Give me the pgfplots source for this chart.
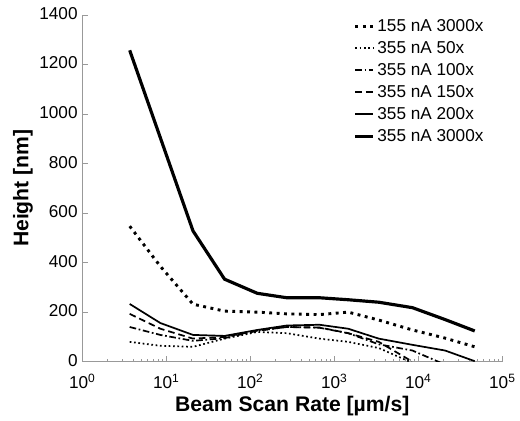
\documentclass[border=0pt]{standalone}
\usepackage{fontspec}
\setmainfont{Liberation Sans}
\usepackage{pgfplots}
\pgfplotsset{compat=1.18}

\begin{document}
\begin{tikzpicture}
\begin{axis}[
    scale only axis,
    width=318pt, height=262.5pt,
    xmode=log,
    xmin=1, xmax=1e5,
    ymin=0, ymax=1400,
    xtick={1,10,100,1000,10000,100000},
    xticklabels={10\textsuperscript{0},10\textsuperscript{1},10\textsuperscript{2},10\textsuperscript{3},10\textsuperscript{4},10\textsuperscript{5}},
    ytick={0,200,...,1400},
    axis x line=bottom, axis y line=left,
    axis line style={draw=gray!80, -},
    tick align=inside,
    major tick length=4pt, minor tick length=2pt,
    tick style={draw=gray!80, line width=0.5pt},
    /pgf/number format/assume math mode=true,
    /pgf/number format/1000 sep={},
    tick label style={font=\fontsize{13}{15}\selectfont},
    x tick label style={yshift=-6pt},
    y tick label style={yshift=1pt},
    label style={font=\fontsize{16}{18}\selectfont\bfseries},
    xlabel={Beam Scan Rate [\textmu m/s]},
    ylabel={Height [nm]},
    xlabel style={yshift=1pt},
    ylabel style={yshift=-2pt},
    legend style={at={(0.965,1.0)}, anchor=north east, draw=none, fill=none,
        font=\fontsize{13}{15}\selectfont, row sep=2.1pt, inner sep=1pt},
    legend cell align=left,
    legend image code/.code={\draw[#1] (0pt,0pt) -- (13.5pt,0pt);},
]
% 155 nA 3000x
\addplot[black, line width=2.2pt, dash pattern=on 2.2pt off 3.4pt] coordinates {
(3.67,547) (8.5,385) (20.8,232) (49.4,204) (121,200) (272,193) (666,190) (1462,200) (3381,168) (8500,128) (20800,95) (46900,60)};
% 355 nA 50x
\addplot[black, line width=1.3pt, dash pattern=on 1.3pt off 2pt] coordinates {
(3.67,80) (8.5,64) (20.8,60) (49.4,93) (121,120) (272,115) (666,93) (1462,80) (3381,55) (8500,-5)};
% 355 nA 100x
\addplot[black, line width=1.3pt, dash pattern=on 5pt off 2pt on 1.3pt off 2pt] coordinates {
(3.67,140) (8.5,108) (20.8,84) (49.4,95) (121,125) (272,140) (666,137) (1462,115) (3381,70) (8500,45) (20800,-12)};
% 355 nA 150x
\addplot[black, line width=1.3pt, dash pattern=on 5pt off 3pt] coordinates {
(3.67,193) (8.5,133) (20.8,93) (49.4,100) (121,125) (272,140) (666,138) (1462,115) (3381,80) (8500,0)};
% 355 nA 200x
\addplot[black, line width=1.3pt] coordinates {
(3.67,233) (8.5,156) (20.8,108) (49.4,104) (121,128) (272,146) (666,149) (1462,133) (3381,93) (8500,68) (20800,45) (46900,2)};
% 355 nA 3000x
\addplot[black, line width=2.4pt] coordinates {
(3.67,1257) (20.8,528) (49.4,333) (121,276) (272,258) (666,258) (1462,250) (3381,240) (8500,218) (20800,170) (46900,124)};
\legend{155 nA 3000x, 355 nA 50x, 355 nA 100x, 355 nA 150x, 355 nA 200x, 355 nA 3000x}
\end{axis}
\path (-62.25pt,-41.25pt) rectangle (327.75pt,273.75pt);
\end{tikzpicture}
\end{document}
